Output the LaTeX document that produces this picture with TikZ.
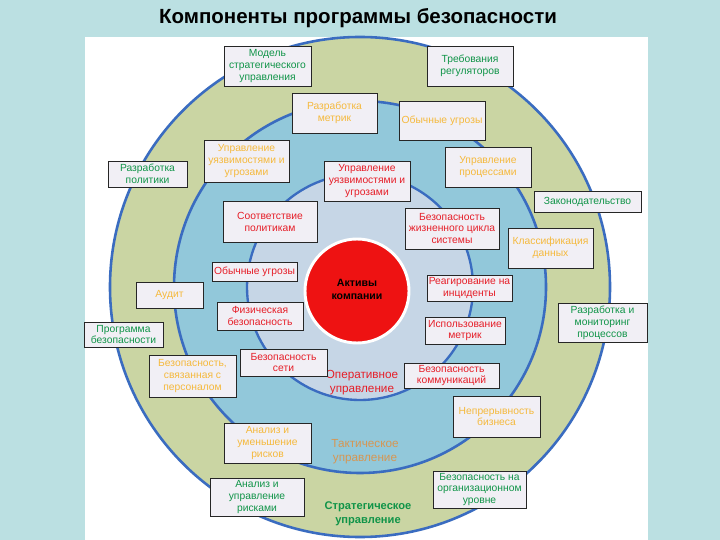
\documentclass[tikz,border=0pt]{standalone}
\usepackage{fontspec}
\setmainfont{Liberation Sans}
\usepackage{tikz}
\pgfdeclarelayer{bg}
\pgfsetlayers{bg,main}
\definecolor{bgteal}{RGB}{187,224,226}
\definecolor{ringouter}{RGB}{202,213,163}
\definecolor{ringmid}{RGB}{146,200,218}
\definecolor{ringin}{RGB}{198,214,230}
\definecolor{ringline}{RGB}{58,108,192}
\definecolor{redcore}{RGB}{238,18,18}
\definecolor{boxfill}{RGB}{241,239,245}
\definecolor{stratgreen}{RGB}{16,148,72}
\definecolor{taktorange}{RGB}{245,185,60}
\definecolor{operred}{RGB}{230,30,40}
\definecolor{takttan}{RGB}{214,150,82}
\tikzset{
    box/.style={rectangle, draw=black!85, line width=0.6pt, fill=boxfill, align=center, inner sep=1pt, font=\fontsize{8.8}{10.2}\selectfont},
    stratbox/.style={box, text=stratgreen},
    taktbox/.style={box, text=taktorange},
    operbox/.style={box, text=operred},
    sz/.style 2 args={minimum width=#1*0.3mm, minimum height=#2*0.3mm}
}
\tikzset{ringlabel/.style={align=center, inner sep=0pt, font=\fontsize{10}{12}\selectfont}}

\begin{document}
\begin{tikzpicture}[x=0.03cm, y=-0.03cm]
    \useasboundingbox (0, 0) rectangle (720, 540);

    \begin{pgfonlayer}{bg}
        \fill[bgteal] (0, 0) rectangle (720, 540);
        \fill[white] (85, 37) rectangle (648, 540);
        \filldraw[fill=ringouter, draw=ringline, line width=2.2pt] (360, 287) circle[radius=7.5cm];
        \filldraw[fill=ringmid, draw=ringline, line width=2.2pt] (360, 287) circle[radius=5.58cm];
        \filldraw[fill=ringin, draw=ringline, line width=2pt] (360, 287) circle[radius=3.39cm];
        \filldraw[fill=redcore, draw=white, line width=2.5pt] (357, 291) circle[radius=1.56cm];
    \end{pgfonlayer}

    \node (title) [font=\fontsize{17.5}{20}\selectfont\bfseries] at (358, 18) {Компоненты программы безопасности};

    \node (akt) [align=center, font=\fontsize{9}{11}\selectfont\bfseries] at (357, 289) {Активы\\компании};
    \node (lbloper) [ringlabel, text=operred] at (362, 383) {Оперативное\\управление};
    \node (lbltakt) [ringlabel, text=takttan] at (365, 452) {Тактическое\\управление};
    \node (lblstrat) [ringlabel, text=stratgreen, font=\fontsize{9.5}{12}\selectfont\bfseries] at (368, 514) {Стратегическое\\управление};

    \node (mdl) [stratbox, sz={87}{40}] at (267.5, 66) {Модель\\стратегического\\управления};
    \node (treb) [stratbox, sz={86}{40}] at (470, 66) {Требования\\регуляторов};
    \node (razmet) [taktbox, sz={85}{40}] at (334.5, 113) {Разработка\\метрик};
    \node (obugr1) [taktbox, sz={86}{39}] at (442, 120.5) {Обычные угрозы};
    \node (razpol) [stratbox, sz={79}{26}] at (147.5, 174) {Разработка\\политики};
    \node (uprug1) [taktbox, sz={85}{42}] at (246.5, 161) {Управление\\уязвимостями и\\угрозами};
    \node (uprug2) [operbox, sz={86}{40}] at (367, 181) {Управление\\уязвимостями и\\угрозами};
    \node (uprpr) [taktbox, sz={86}{40}] at (488, 167) {Управление\\процессами};
    \node (zak) [stratbox, sz={107}{21}] at (587.5, 201.5) {Законодательство};
    \node (sootv) [operbox, sz={94}{41}] at (270, 221.5) {Соответствие\\политикам};
    \node (bzhc) [operbox, sz={94}{41}] at (452, 228.5) {Безопасность\\жизненного цикла\\системы};
    \node (klass) [taktbox, sz={85}{40}] at (550.5, 248) {Классификация\\данных};
    \node (obugr2) [operbox, sz={85}{19}] at (254.5, 271.5) {Обычные угрозы};
    \node (audit) [taktbox, sz={67}{26}] at (169.5, 295) {Аудит};
    \node (reag) [operbox, sz={85}{26}] at (469.5, 288) {Реагирование на\\инциденты};
    \node (fiz) [operbox, sz={86}{28}] at (260, 316) {Физическая\\безопасность};
    \node (prog) [stratbox, sz={79}{25}] at (123.5, 334.5) {Программа\\безопасности};
    \node (ispm) [operbox, sz={80}{27}] at (465, 330.5) {Использование\\метрик};
    \node (razmon) [stratbox, sz={89}{39}] at (602.5, 322.5) {Разработка и\\мониторинг\\процессов};
    \node (bpers) [taktbox, sz={87}{42}] at (192.5, 376) {Безопасность,\\связанная с\\персоналом};
    \node (bset) [operbox, sz={87}{27}] at (283.5, 362.5) {Безопасность\\сети};
    \node (bkom) [operbox, sz={95}{25}] at (451.5, 375.5) {Безопасность\\коммуникаций};
    \node (nepr) [taktbox, sz={87}{41}] at (496.5, 416.5) {Непрерывность\\бизнеса};
    \node (anum) [taktbox, sz={87}{40}] at (267.5, 443) {Анализ и\\уменьшение\\рисков};
    \node (anupr) [stratbox, sz={94}{38}] at (257, 497) {Анализ и\\управление\\рисками};
    \node (borg) [stratbox, sz={93}{37}] at (479.5, 489.5) {Безопасность на\\организационном\\уровне};
\end{tikzpicture}
\end{document}
